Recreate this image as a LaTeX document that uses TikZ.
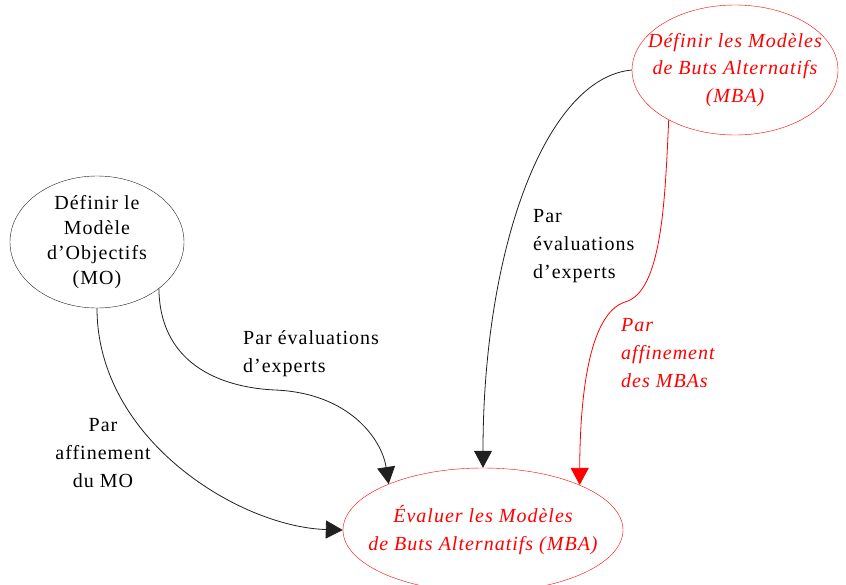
\documentclass[tikz,border=0pt]{standalone}
\usepackage{fontspec}
\setmainfont{Liberation Serif}[LetterSpace=5]
\usetikzlibrary{arrows.meta,shapes.geometric}
\definecolor{ModRed}{HTML}{FF0000}
\definecolor{ModInk}{HTML}{202020}
\tikzset{model/.style={ellipse,draw=ModInk,inner sep=0pt,align=center,
font=\fontsize{20}{25}\selectfont},
altmodel/.style={model,inner xsep=-20pt,draw=ModRed,text=ModRed,font=\fontsize{20}{27.5}\selectfont\itshape},
link/.style={-{Triangle[length=17pt,width=18pt]},line width=0.8pt,draw=ModInk},
altlink/.style={link,draw=ModRed},
tag/.style={align=left,inner sep=0pt,font=\fontsize{20}{28}\selectfont}}

\begin{document}
\begin{tikzpicture}[x=1pt,y=-1pt]
\useasboundingbox (0,0) rectangle (846,584);
% models
\node[model,minimum width=174pt,minimum height=124pt](mo) at (97,242)
  {Définir le\\Modèle\\d’Objectifs\\(MO)};
\node[altmodel,minimum width=206pt,minimum height=130pt](mba) at (735,70)
  {Définir les Modèles\\de Buts Alternatifs\\(MBA)};
\node[altmodel,minimum width=280pt,minimum height=124pt](eval) at (483,530)
  {Évaluer les Modèles\\de Buts Alternatifs (MBA)};
% links
\draw[link](mo.south) .. controls (97,440) and (240,527) .. (eval.west);
\draw[link](mo.-37) .. controls (160,370) and (230,388) .. (275,390)
  .. controls (350,393) and (382,440) .. (eval.154);
\draw[link](mba.west) .. controls (545,78) and (483,250) .. (eval.north);
\draw[altlink](mba.217) .. controls (665,200) and (662,292) .. (625,302)
  .. controls (588,314) and (580,400) .. (eval.25);
% labels
\node[tag,anchor=west](tagmoeval) at (243,354) {Par évaluations\\d’experts};
\node[tag,align=center](tagmoref) at (103,453) {Par\\affinement\\du MO};
\node[tag,anchor=west](tagmbaeval) at (533,246) {Par\\évaluations\\d’experts};
\node[tag,anchor=west,text=ModRed,font=\fontsize{20}{28}\selectfont\itshape](tagmbaref)
  at (621,353) {Par\\affinement\\des MBAs};
\end{tikzpicture}
\end{document}
